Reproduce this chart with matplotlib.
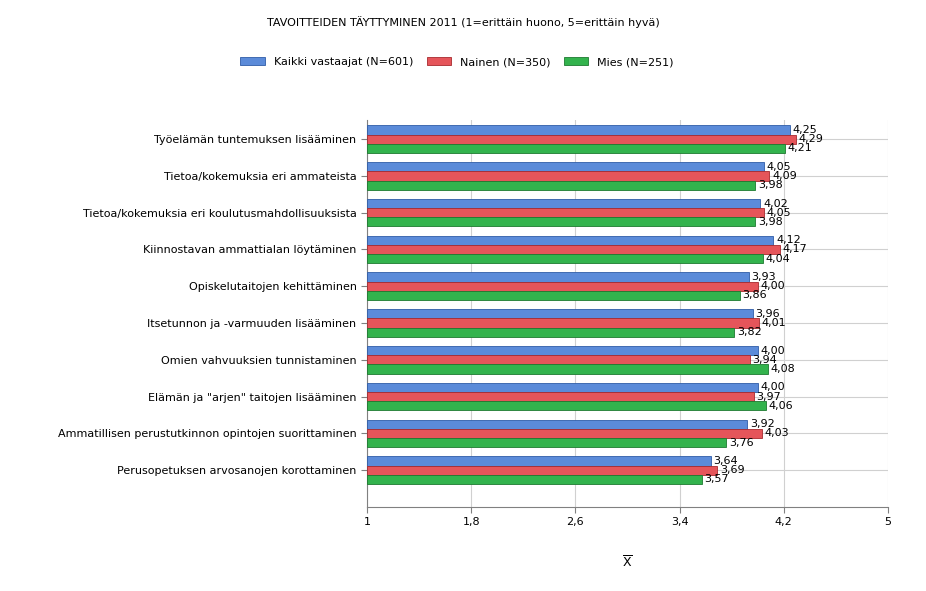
import numpy as np
import matplotlib.pyplot as plt

categories = [
    "Työelämän tuntemuksen lisääminen",
    "Tietoa/kokemuksia eri ammateista",
    "Tietoa/kokemuksia eri koulutusmahdollisuuksista",
    "Kiinnostavan ammattialan löytäminen",
    "Opiskelutaitojen kehittäminen",
    "Itsetunnon ja -varmuuden lisääminen",
    "Omien vahvuuksien tunnistaminen",
    'Elämän ja "arjen" taitojen lisääminen',
    "Ammatillisen perustutkinnon opintojen suorittaminen",
    "Perusopetuksen arvosanojen korottaminen",
]
kaikki = [4.25, 4.05, 4.02, 4.12, 3.93, 3.96, 4.00, 4.00, 3.92, 3.64]
nainen = [4.29, 4.09, 4.05, 4.17, 4.00, 4.01, 3.94, 3.97, 4.03, 3.69]
mies = [4.21, 3.98, 3.98, 4.04, 3.86, 3.82, 4.08, 4.06, 3.76, 3.57]
series = [("Kaikki vastaajat (N=601)", kaikki, "#5b8bd9", "#2f5da8"),
          ("Nainen (N=350)", nainen, "#e5555a", "#a82a2e"),
          ("Mies (N=251)", mies, "#33b34d", "#1d7a30")]
xticks = [1, 1.8, 2.6, 3.4, 4.2, 5]

fig = plt.figure(figsize=(9.26, 5.91), dpi=100)
ax = fig.add_axes([367/926, 1-507/591, (888-367)/926, (507-120)/591])

y = np.arange(len(categories))
h = 0.25
for i, (name, vals, col, edge) in enumerate(series):
    pos = y + (i - 1) * h
    ax.barh(pos, np.array(vals) - 1, left=1, height=h, color=col, edgecolor=edge,
            linewidth=0.6, label=name, zorder=3)
    for p, v in zip(pos, vals):
        ax.text(v + 0.02, p, f"{v:.2f}".replace(".", ","), va="center", ha="left",
                fontsize=8, zorder=4)

ax.set_xlim(1, 5)
ax.set_ylim(len(categories) - 1 + 1.0, -0.52)
ax.set_xticks(xticks)
ax.set_xticklabels([str(t).replace(".", ",") for t in xticks], fontsize=8)
ax.set_yticks(y)
ax.set_yticklabels(categories, fontsize=8)
ax.grid(True, color="#d0d0d0", linewidth=0.8, zorder=0)
for s in ["top", "right"]:
    ax.spines[s].set_visible(False)
for s in ["left", "bottom"]:
    ax.spines[s].set_color("#808080")
ax.tick_params(length=4, color="#808080")
ax.set_xlabel(r"$\overline{\mathrm{X}}$", fontsize=9, labelpad=20)

fig.text(0.5, 1-22/591, "TAVOITTEIDEN TÄYTTYMINEN 2011 (1=erittäin huono, 5=erittäin hyvä)",
         ha="center", va="center", fontsize=8)
handles, labels = ax.get_legend_handles_labels()
fig.legend(handles, labels, loc="center", bbox_to_anchor=(457/926, 1-62/591), ncol=3,
           frameon=False, fontsize=8, handlelength=2.2, handleheight=0.8, columnspacing=1.2)

fig.savefig("out.png", dpi=100)
